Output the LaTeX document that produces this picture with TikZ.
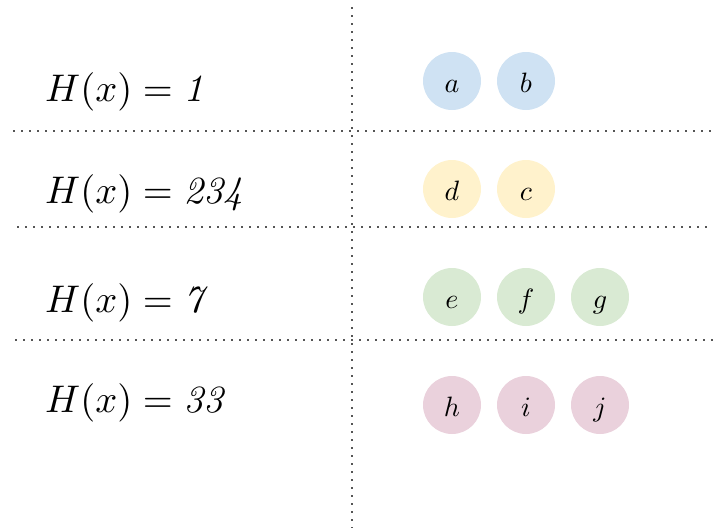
\documentclass[tikz,border=0pt]{standalone}
\usepackage{graphicx}
\usepackage{xcolor}

\definecolor{bucketblue}{HTML}{CFE2F3}
\definecolor{bucketyellow}{HTML}{FFF2CC}
\definecolor{bucketgreen}{HTML}{D9EAD3}
\definecolor{bucketpink}{HTML}{EAD1DC}
\definecolor{sepgray}{HTML}{555555}

\newcommand{\hashval}[1]{\scalebox{3.85}{$H(x) = \mathit{#1}$}}
\newcommand{\elem}[1]{\scalebox{2.8}{$#1$}}

\begin{document}
\begin{tikzpicture}[
    x=1pt, y=-1pt,
    key/.style={anchor=base west, inner sep=0pt},
    item/.style={circle, minimum size=58pt, inner sep=0pt, text height=22pt, text depth=0pt},
    sepline/.style={sepgray, line width=1.6pt, dash pattern=on 1.6pt off 6.4pt}
]
\useasboundingbox (0,0) rectangle (713,528);

% hash values
\node[key] (h1) at (45,101) {\hashval{1}};
\node[key] (h2) at (45,203) {\hashval{234}};
\node[key] (h3) at (45,312) {\hashval{7}};
\node[key] (h4) at (45,412) {\hashval{33}};

% buckets
\node[item, fill=bucketblue] (a) at (452,81) {\elem{a}};
\node[item, fill=bucketblue] (b) at (526,81) {\elem{b}};

\node[item, fill=bucketyellow] (d) at (452,189) {\elem{d}};
\node[item, fill=bucketyellow] (c) at (526,189) {\elem{c}};

\node[item, fill=bucketgreen] (e) at (452,297) {\elem{e}};
\node[item, fill=bucketgreen] (f) at (526,297) {\elem{f}};
\node[item, fill=bucketgreen] (g) at (600,297) {\elem{g}};

\node[item, fill=bucketpink] (h) at (452,405) {\elem{h}};
\node[item, fill=bucketpink] (i) at (526,405) {\elem{i}};
\node[item, fill=bucketpink] (j) at (600,405) {\elem{j}};

% separators
\coordinate (top) at (352,7);
\coordinate (bottom) at (352,528);
\coordinate (r1w) at (13,131);
\coordinate (r1e) at (711,131);
\coordinate (r2w) at (17,227);
\coordinate (r2e) at (707,227);
\coordinate (r3w) at (15,340);
\coordinate (r3e) at (713,340);

\draw[sepline] (top) -- (bottom);
\draw[sepline] (r1w) -- (r1e);
\draw[sepline] (r2w) -- (r2e);
\draw[sepline] (r3w) -- (r3e);

\end{tikzpicture}
\end{document}
